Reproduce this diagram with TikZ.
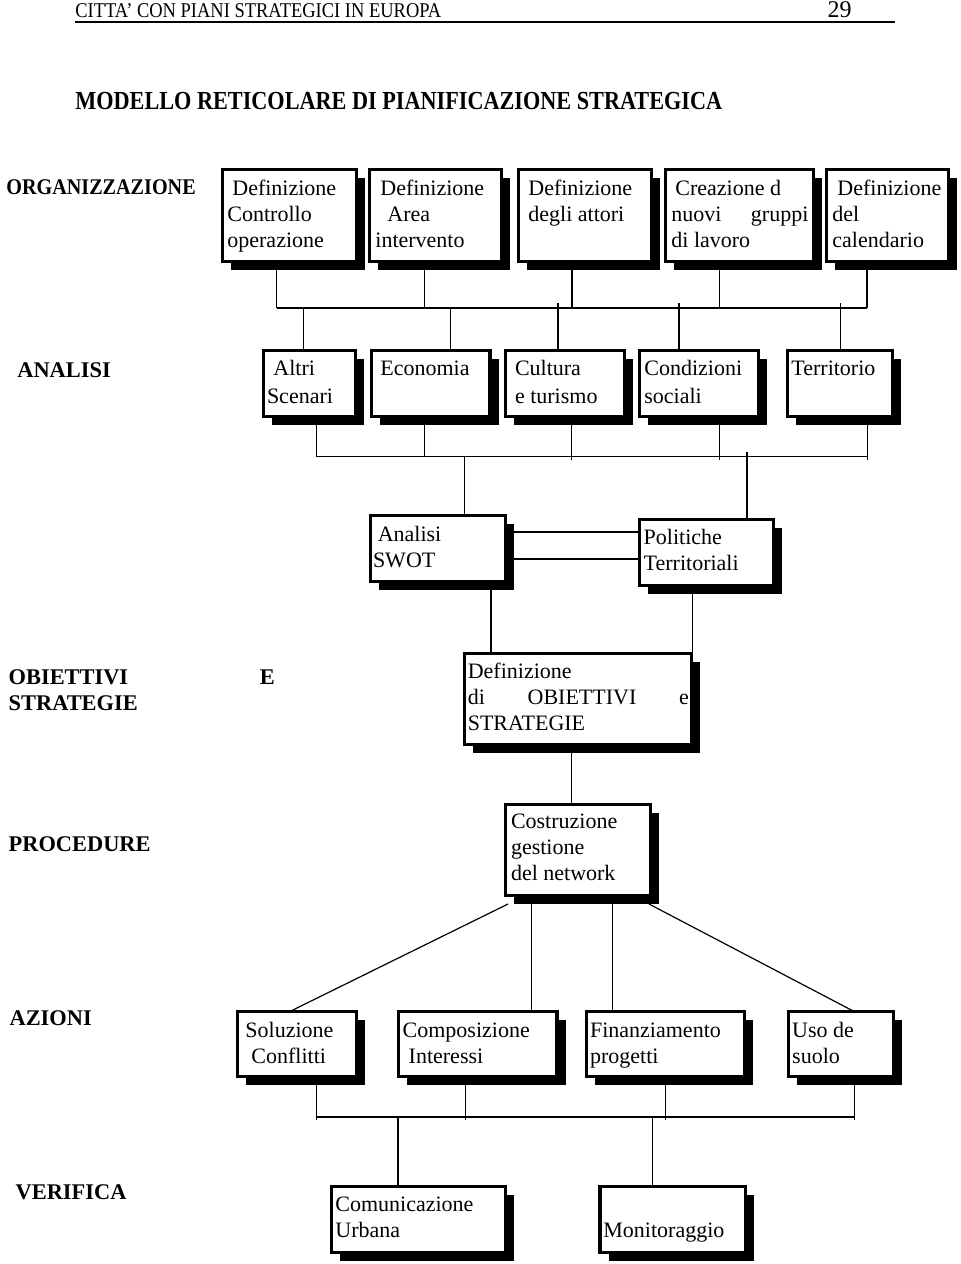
\documentclass[tikz,border=0pt]{standalone}
\usepackage{fontspec}
\setmainfont{Liberation Serif}
\usetikzlibrary{shadows}
\tikzset{
  frame/.style={draw, line width=1.6pt, fill=white, inner sep=0pt, outer sep=0pt,
    drop shadow={shadow xshift=4.3pt, shadow yshift=-4.3pt, fill=black, opacity=1}},
  boxtext/.style={anchor=north west, inner sep=0pt, align=left, font=\fontsize{11}{13}\selectfont},
  lab/.style={anchor=base west, inner sep=0pt, font=\fontsize{11.2}{13}\selectfont\bfseries},
  link/.style={line width=0.6pt}
}
\newcommand{\stagebox}[5]{%
  \node[frame, minimum width={(#4-#2)*0.5pt-1.6pt}, minimum height={(#5-#3)*0.5pt-1.6pt}]
    (#1) at ({(#2+#4)/2},{(#3+#5)/2}) {};}
\begin{document}
\begin{tikzpicture}[x=0.5pt,y=-0.5pt]
\useasboundingbox (0,0) rectangle (960,1264);
\node[anchor=base west, inner sep=0pt, font=\fontsize{10.5}{12}\selectfont] (head) at (75,17) {\scalebox{0.88}[1]{CITTA’ CON PIANI STRATEGICI IN EUROPA}};
\node[anchor=base east, inner sep=0pt, font=\fontsize{12}{14}\selectfont] (page) at (852,17) {29};
\draw[line width=1pt] (75,22) -- (895,22);
\node[anchor=base west, inner sep=0pt, font=\fontsize{13}{15}\selectfont\bfseries] (title) at (75,109) {\scalebox{0.855}[1]{MODELLO RETICOLARE DI PIANIFICAZIONE STRATEGICA}};

\node[lab] (lorg) at (6,194) {\scalebox{0.9}[1]{ORGANIZZAZIONE}};
\node[lab] (lana) at (17,377) {ANALISI};
\node[lab] (lobj) at (8.3,684) {\makebox[133pt][s]{OBIETTIVI E}};
\node[lab] (lstr) at (8.3,710) {STRATEGIE};
\node[lab] (lpro) at (8.3,851.7) {PROCEDURE};
\node[lab] (lazi) at (9.2,1025) {AZIONI};
\node[lab] (lver) at (15.3,1199) {VERIFICA};

\stagebox{o1}{221}{168}{358}{263}
\stagebox{o2}{368}{168}{503}{263}
\stagebox{o3}{517}{168}{653}{263}
\stagebox{o4}{664}{168}{815}{263}
\stagebox{o5}{825}{168}{950}{263}
\node[boxtext] (o1t) at (227,176.8) {\strut\hspace*{2.5pt}Definizione\\Controllo\\operazione};
\node[boxtext] (o2t) at (375,176.8) {\strut\hspace*{2.5pt}Definizione\\\hspace*{6pt}Area\\intervento};
\node[boxtext] (o3t) at (528,176.8) {\strut Definizione\\degli attori};
\node[boxtext] (o4t) at (671,176.8) {\strut\hspace*{2pt}Creazione d\\\makebox[68.5pt][s]{nuovi gruppi}\\di lavoro};
\node[boxtext] (o5t) at (832,176.8) {\strut\hspace*{2.5pt}Definizione\\del\\calendario};

\stagebox{a1}{262}{349}{357}{418}
\stagebox{a2}{370}{349}{491.6}{418}
\stagebox{a3}{504}{349}{625.7}{418}
\stagebox{a4}{638}{349}{760}{418}
\stagebox{a5}{786}{349}{894}{418}
\node[boxtext, font=\fontsize{11}{14}\selectfont] (a1t) at (266.6,355.4) {\strut\hspace*{3.2pt}Altri\\Scenari};
\node[boxtext, font=\fontsize{11}{14}\selectfont] (a2t) at (380,355.4) {\strut Economia};
\node[boxtext, font=\fontsize{11}{14}\selectfont] (a3t) at (514.6,355.4) {\strut Cultura\\e turismo};
\node[boxtext, font=\fontsize{11}{14}\selectfont] (a4t) at (644,355.4) {\strut Condizioni\\sociali};
\node[boxtext, font=\fontsize{11}{14}\selectfont] (a5t) at (791,355.4) {\strut Territorio};

\stagebox{swot}{369}{514}{506.7}{583}
\stagebox{pol}{637.7}{518}{775}{587}
\node[boxtext] (swott) at (372.6,522.8) {\strut\hspace*{2.4pt}Analisi\\SWOT};
\node[boxtext] (polt) at (643.3,525.8) {\strut Politiche\\Territoriali};

\stagebox{obj}{463}{652}{693}{746}
\node[boxtext] (objt) at (467.4,659.5) {\strut Definizione\\\makebox[110.5pt][s]{di OBIETTIVI e}\\STRATEGIE};

\stagebox{cost}{504}{803}{652}{897}
\node[boxtext] (costt) at (510.6,810.1) {\strut Costruzione\\gestione\\del network};

\stagebox{sol}{235.8}{1010}{358.2}{1078}
\stagebox{comp}{396.8}{1010}{558.5}{1078}
\stagebox{fin}{584.8}{1010}{745.9}{1078}
\stagebox{uso}{786.9}{1010}{895.3}{1078}
\node[boxtext] (solt) at (245,1018.5) {\strut Soluzione\\\hspace*{3pt}Conflitti};
\node[boxtext] (compt) at (402.3,1018.5) {\strut Composizione\\\hspace*{3pt}Interessi};
\node[boxtext] (fint) at (589.7,1018.5) {\strut Finanziamento\\progetti};
\node[boxtext] (usot) at (791.8,1018.5) {\strut Uso de\\suolo};

\stagebox{com}{329.5}{1185}{507}{1254}
\stagebox{mon}{598.3}{1185}{747}{1254}
\node[boxtext] (comt) at (335,1192.8) {\strut Comunicazione\\Urbana};
\node[boxtext] (mont) at (603,1218.5) {\strut Monitoraggio};

\coordinate (u1) at (276.7,308);
\coordinate (u2) at (424.5,308);
\coordinate (u3) at (571.9,308);
\coordinate (u4) at (719.7,308);
\coordinate (u5) at (867,308);
\coordinate (v1) at (303.3,308);
\coordinate (v2) at (450.7,308);
\coordinate (v3) at (558,303);
\coordinate (v4) at (678.9,303);
\coordinate (v5) at (840.5,303);
\draw[link] (u1) -- (u5);
\foreach \i in {1,...,5} {
  \draw[link] (u\i |- o\i.south) -- (u\i);
  \draw[link] (v\i) -- (v\i |- a\i.north);
}

\coordinate (w1) at (316.7,456.5);
\coordinate (w2) at (424.6,456.5);
\coordinate (w3) at (571.5,460);
\coordinate (w4) at (719.8,460);
\coordinate (w5) at (867.6,460);
\draw[link] (w1) -- (w5 |- w1);
\foreach \i in {1,...,5}
  \draw[link] (w\i |- a\i.south) -- (w\i);
\coordinate (s1) at (464.5,456.5);
\coordinate (p1) at (747,451.7);
\draw[link] (s1) -- (s1 |- swot.north);
\draw[link] (p1) -- (p1 |- pol.north);

\coordinate (h1) at (510,532);
\coordinate (h2) at (510,559);
\draw[link] (h1 -| swot.east) -- (h1 -| pol.west);
\draw[link] (h2 -| swot.east) -- (h2 -| pol.west);

\coordinate (g1) at (491,600);
\coordinate (g2) at (692.7,600);
\draw[link] (g1 |- swot.south) -- (g1 |- obj.north);
\draw[link] (g2 |- pol.south) -- (g2 |- obj.north);

\coordinate (d1) at (571.6,780);
\draw[link] (d1 |- obj.south) -- (d1 |- cost.north);

\coordinate (k1) at (508,904);
\coordinate (k2) at (531.5,900);
\coordinate (k3) at (612.4,900);
\coordinate (k4) at (649,904);
\draw[link] (k1) -- ([xshift=-3.7pt]sol.north);
\draw[link] (k2) -- (k2 |- comp.north);
\draw[link] (k3) -- (k3 |- fin.north);
\draw[link] (k4) -- ([xshift=6.6pt]uso.north);

\coordinate (z1) at (316.6,1120);
\coordinate (z2) at (465.4,1120);
\coordinate (z3) at (665.6,1120);
\coordinate (z4) at (854.3,1120);
\foreach \n/\i in {sol/1,comp/2,fin/3,uso/4}
  \draw[link] (z\i |- \n.south) -- (z\i);
\draw[link] ([yshift=1.5pt]z1) -- ([yshift=1.5pt]z4);
\coordinate (r1) at (398,1117);
\coordinate (r2) at (652.8,1117);
\draw[link] (r1) -- (r1 |- com.north);
\draw[link] (r2) -- (r2 |- mon.north);
\end{tikzpicture}
\end{document}
